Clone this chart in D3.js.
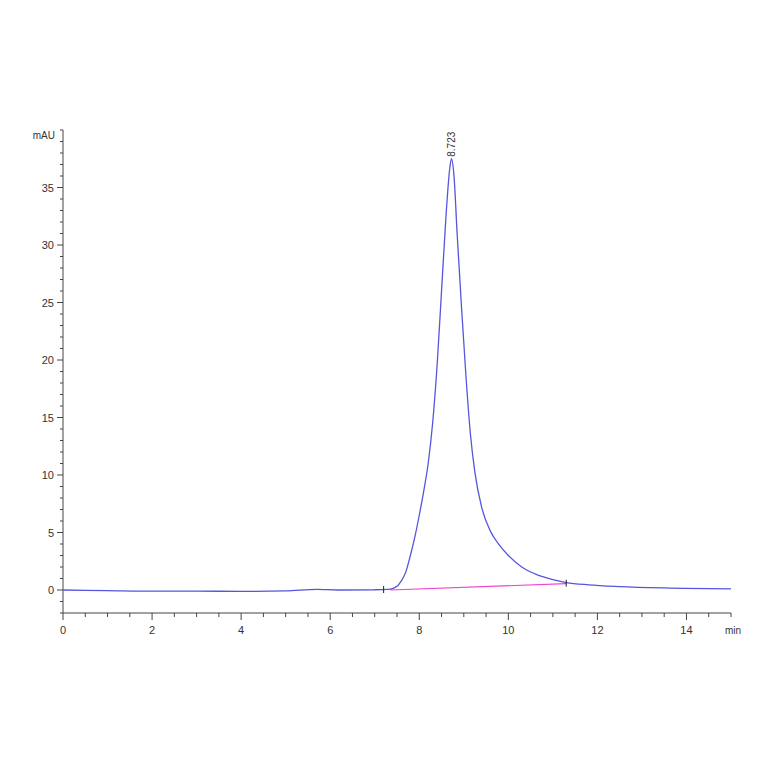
<!DOCTYPE html>
<html><head><meta charset="utf-8">
<script src="https://d3js.org/d3.v7.min.js"></script>
<style>body{margin:0;background:#fff}svg{font-family:Arial,"Liberation Sans",sans-serif}</style>
</head><body>
<script>
// signal trace (min, mAU)
var times  = [0, 1, 2, 3, 4, 5, 5.7, 6.2, 7, 7.3, 7.45, 7.6, 7.7, 7.8, 7.9, 8.0, 8.1, 8.2, 8.3, 8.4, 8.5, 8.6, 8.68, 8.723, 8.78, 8.85, 8.95, 9.05, 9.15, 9.25, 9.4, 9.6, 9.8, 10.0, 10.3, 10.6, 11.0, 11.3, 11.8, 12.5, 13.5, 15];
var values = [0, -0.05, -0.1, -0.1, -0.12, -0.08, 0.05, 0, 0.02, 0.05, 0.2, 0.8, 1.6, 3, 4.6, 6.5, 8.6, 11, 14.5, 19.5, 26, 32.5, 36.5, 37.5, 36, 31, 24.5, 18.5, 13.5, 10.2, 7.2, 5.1, 3.9, 3.0, 2.0, 1.4, 0.9, 0.65, 0.45, 0.3, 0.18, 0.1];
var baseT = [7.35, 11.3];
var baseV = [0.0, 0.55];
var peakT = 8.723, peakV = 37.5, peakLabel = "8.723";
var xTicks = [0, 2, 4, 6, 8, 10, 12, 14];
var yTicks = [0, 5, 10, 15, 20, 25, 30, 35];

var svg = d3.select("body").append("svg").attr("width", 764).attr("height", 764);
var x = d3.scaleLinear().domain([0, 15]).range([63, 731]);
var y = d3.scaleLinear().domain([-2, 40]).range([613, 130]);

var ax = "#444";
// y axis
svg.append("line").attr("x1", 63).attr("x2", 63).attr("y1", y(40)).attr("y2", y(-2)).attr("stroke", ax);
svg.selectAll(".ym").data(d3.range(-2, 41)).enter().append("line")
  .attr("x1", 63).attr("x2", function(d){ return yTicks.indexOf(d) >= 0 ? 57 : 60; })
  .attr("y1", y).attr("y2", y).attr("stroke", ax);
svg.selectAll(".yl").data(yTicks).enter().append("text")
  .attr("x", 54).attr("y", function(d){ return y(d) + 4; }).attr("text-anchor", "end")
  .attr("font-size", 11).attr("fill", "#333").text(function(d){ return d; });
svg.append("text").attr("x", 55).attr("y", 139).attr("text-anchor", "end")
  .attr("font-size", 10).attr("fill", "#333").text("mAU");

// x axis
svg.append("line").attr("x1", 63).attr("x2", 731).attr("y1", 613).attr("y2", 613).attr("stroke", ax);
svg.selectAll(".xm").data(d3.range(0, 15.01, 0.5)).enter().append("line")
  .attr("x1", x).attr("x2", x).attr("y1", 613)
  .attr("y2", function(d){ return d % 2 === 0 ? 620 : 617; }).attr("stroke", ax);
svg.selectAll(".xl").data(xTicks).enter().append("text")
  .attr("x", x).attr("y", 634).attr("text-anchor", "middle")
  .attr("font-size", 11).attr("fill", "#333").text(function(d){ return d; });
svg.append("text").attr("x", 725).attr("y", 634).attr("font-size", 10).attr("fill", "#333").text("min");

// baseline
svg.append("line").attr("x1", x(baseT[0])).attr("x2", x(baseT[1]))
  .attr("y1", y(baseV[0])).attr("y2", y(baseV[1])).attr("stroke", "#ee44cc").attr("stroke-width", 1.2);

// trace
var line = d3.line().x(function(d){ return x(d[0]); }).y(function(d){ return y(d[1]); }).curve(d3.curveMonotoneX);
svg.append("path").datum(d3.zip(times, values)).attr("d", line)
  .attr("fill", "none").attr("stroke", "#5555dd").attr("stroke-width", 1.3);

// integration marks
svg.selectAll(".im").data(baseT).enter().append("line")
  .attr("x1", function(d, i){ return x(i ? d : 7.2); }).attr("x2", function(d, i){ return x(i ? d : 7.2); })
  .attr("y1", function(d, i){ return y(baseV[i]) + 3; }).attr("y2", function(d, i){ return y(baseV[i]) - 4; })
  .attr("stroke", "#222");

// peak label
svg.append("text").attr("transform", "translate(" + (x(peakT) + 4) + "," + (y(peakV) - 2) + ") rotate(-90)")
  .attr("font-size", 10).attr("fill", "#333").text(peakLabel);
</script>
</body></html>
